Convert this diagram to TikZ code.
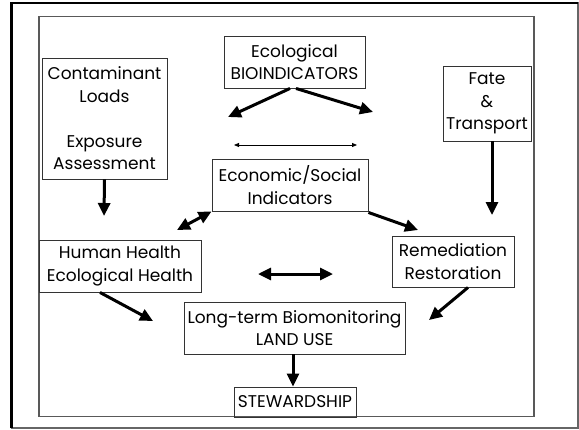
\documentclass[tikz,border=0pt]{standalone}
\usepackage{fontspec}
\setmainfont{Poppins}
\usetikzlibrary{arrows.meta}
\begin{document}
\begin{tikzpicture}[x=1pt,y=-1pt,
  box/.style={draw=black!80,line width=0.9pt,align=center,inner sep=0pt,
    font=\fontsize{17}{22.5}\selectfont},
  thick arrow/.style={line width=3pt,-{Triangle[length=13pt,width=12pt]}},
  thick double/.style={line width=3pt,{Triangle[length=13pt,width=12pt]}-{Triangle[length=13pt,width=12pt]}},
  thin double/.style={line width=0.8pt,{Triangle[length=5pt,width=4pt]}-{Triangle[length=5pt,width=4pt]}}]
\useasboundingbox (0,0) rectangle (579,429);
% frames
\draw[black!60,line width=1.3pt] (11.5,3) rectangle (578,428);
\draw[black,line width=2.6pt] (11.5,428) -- (11.5,3) -- (578,3);
\draw[black!65,line width=1.3pt] (39,16.7) rectangle (534,416.7);
% nodes
\node[box,minimum width=141pt,minimum height=52pt] (eco) at (294.5,62) {Ecological\\BIOINDICATORS};
\node[box,minimum width=125pt,minimum height=121pt] (cont) at (104.5,118.5) {Contaminant\\Loads\\[22.5pt]Exposure\\Assessment};
\node[box,minimum width=88pt,minimum height=75pt] (fate) at (487,103.5) {Fate\\\&\\Transport};
\node[box,minimum width=156pt,minimum height=52pt] (econ) at (290,185) {Economic/Social\\Indicators};
\node[box,minimum width=162pt,minimum height=52pt] (human) at (120,266) {Human Health\\Ecological Health};
\node[box,minimum width=122pt,minimum height=51pt] (remed) at (453,261.5) {Remediation\\Restoration};
\node[box,minimum width=221pt,minimum height=52pt] (longt) at (294.5,328) {Long-term Biomonitoring\\LAND USE};
\node[box,minimum width=122pt,minimum height=30pt] (stew) at (295,402) {STEWARDSHIP};
% free ends
\coordinate (ecoL) at (228,117);
\coordinate (ecoR) at (373,112);
\coordinate (thinL) at (234,145);
\coordinate (thinR) at (357,145);
\coordinate (contT) at (104,216);
\coordinate (fateT) at (492,215);
\coordinate (econT) at (177,230);
\coordinate (remedT) at (418,230);
\coordinate (midL) at (258,274);
\coordinate (midR) at (333,274);
\coordinate (humanT) at (153,321);
\coordinate (remedL) at (429,320);
% arrows
\draw[thick arrow] ([xshift=-4.5pt]eco.south) -- (ecoL);
\draw[thick arrow] ([xshift=1.5pt]eco.south) -- (ecoR);
\draw[thin double] (thinL) -- (thinR);
\draw[thick arrow] (cont.south) -- (contT);
\draw[thick arrow] ([xshift=5pt]fate.south) -- (fateT);
\draw[thick double] (econ.south west) -- (econT);
\draw[thick arrow] ([yshift=-1pt]econ.south east) -- (remedT);
\draw[thick double] (midL) -- (midR);
\draw[thick arrow] ([xshift=-20pt]human.south) -- (humanT);
\draw[thick arrow] ([xshift=15pt]remed.south) -- (remedL);
\draw[thick arrow] ([xshift=-1.5pt]longt.south) -- ([xshift=-2pt]stew.north);
\end{tikzpicture}
\end{document}
